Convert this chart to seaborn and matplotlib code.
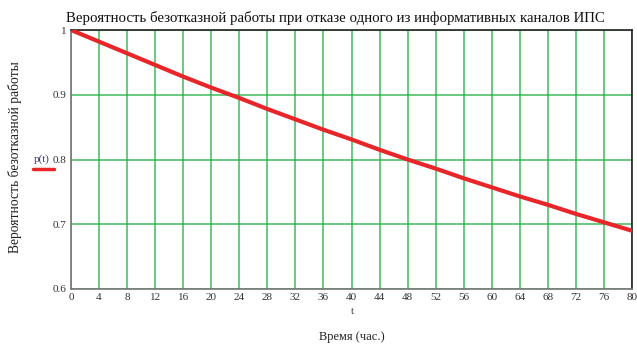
import numpy as np
import pandas as pd
import matplotlib
matplotlib.use("Agg")
import matplotlib.pyplot as plt
import seaborn as sns

# time, hours
t_hours = [0, 4, 8, 12, 16, 20, 24, 28, 32, 36, 40,
           44, 48, 52, 56, 60, 64, 68, 72, 76, 80]
# probability of failure-free operation
p_values = [1.000, 0.982, 0.964, 0.946, 0.928, 0.911, 0.895, 0.878, 0.862, 0.846, 0.831,
            0.815, 0.800, 0.786, 0.771, 0.757, 0.743, 0.730, 0.716, 0.703, 0.690]
x_ticks = list(range(0, 81, 4))
y_ticks = [0.6, 0.7, 0.8, 0.9, 1.0]
y_ticklabels = ["0.6", "0.7", "0.8", "0.9", "1"]

title = "Вероятность безотказной работы при отказе одного из информативных каналов ИПС"

sns.set_theme(style="white")
plt.rcParams["font.family"] = ["Liberation Serif", "DejaVu Serif"]

df = pd.DataFrame({"t": t_hours, "p": p_values})

fig = plt.figure(figsize=(6.37, 3.48), dpi=100)
ax = fig.add_axes([71 / 637, 1 - 289 / 348, (632 - 71) / 637, (289 - 30) / 348])

sns.lineplot(data=df, x="t", y="p", ax=ax, color="#e8262a", linewidth=3, zorder=3)

ax.set_xlim(0, 80)
ax.set_ylim(0.6, 1.0)
ax.set_xticks(x_ticks)
ax.set_yticks(y_ticks)
ax.set_yticklabels(y_ticklabels)
ax.tick_params(axis="both", length=0, labelsize=8, colors="#333333", pad=3)
ax.grid(True, color="#1fb03f", linewidth=1.1, alpha=0.85)
ax.set_xlabel("")
ax.set_ylabel("")

for side in ["left", "bottom"]:
    ax.spines[side].set_color("#777777")
    ax.spines[side].set_linewidth(1.2)
for side in ["top", "right"]:
    ax.spines[side].set_color("#222222")
    ax.spines[side].set_linewidth(1.2)

fig.text(335 / 637, 1 - 18 / 348, title, ha="center", va="center", fontsize=10.7, color="#111111")
fig.text(352 / 637, 1 - 312 / 348, "t", ha="center", va="center", fontsize=8, color="#333333")
fig.text(352 / 637, 1 - 337 / 348, "Время (час.)", ha="center", va="center", fontsize=9, color="#222222")
fig.text(15 / 637, 1 - 157 / 348, "Вероятность безотказной работы", ha="center", va="center",
         rotation=90, fontsize=9.8, color="#222222")
fig.text(42 / 637, 1 - 159 / 348, "p(t)", ha="center", va="center", fontsize=8, color="#333366")
fig.add_artist(plt.Line2D([33 / 637, 54 / 637], [1 - 169 / 348, 1 - 169 / 348],
                          color="#e8262a", linewidth=2.5, transform=fig.transFigure))

fig.savefig("out.png", dpi=100)
